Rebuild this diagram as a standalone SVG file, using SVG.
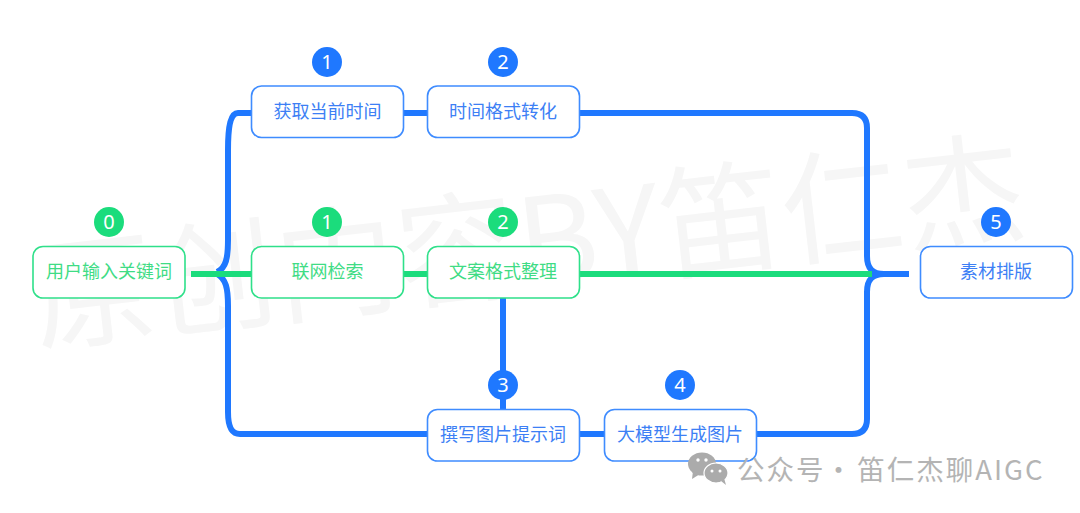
<svg xmlns="http://www.w3.org/2000/svg" width="1080" height="513" viewBox="0 0 1080 513">
<style>
text{font-family:"Noto Sans CJK SC","Liberation Sans",sans-serif}
.n rect{fill:#fff;stroke-width:1.6}
.b rect{stroke:#3f8cff}.b text{fill:#3d7ff5}
.g rect{stroke:#2fe08a}.g text{fill:#3fdc85}
.n text{font-size:18px;text-anchor:middle}
.c{fill:none;stroke-width:6}
.cb{stroke:#1f78ff}.cg{stroke:#1bdc7c}
.bd text{font-family:"Noto Sans","Liberation Sans",sans-serif;font-size:20px;fill:#fff;text-anchor:middle}
</style>
<rect width="1080" height="513" fill="#fff"/>
<text id="watermark" transform="translate(38 343) rotate(-6.500)" font-size="122" fill="#f6f6f6">原创内容BY笛仁杰</text>
<g id="connectors">
<path class="c cb" d="M251 113H238C231 113 228 125 228 150V240C228 258 226 268 217 272"/>
<path class="c cb" d="M217 274C226 279 228 288 228 306V412C228 426 231 434 240 434H427"/>
<path class="c cb" d="M403 113H427"/>
<path class="c cb" d="M579 113H852C862 113 867 118 867 128V256C867 268 872 274 884 274H909"/>
<path class="c cb" d="M756 434H852C862 434 867 429 867 419V292C867 280 872 274 884 274"/>
<path class="c cb" d="M503 298V409"/>
<path class="c cb" d="M579 434H604"/>
<path class="c cg" d="M191 274H251"/>
<path class="c cg" d="M403 274H427"/>
<path class="c cg" d="M579 274H872"/>
</g>
<g id="n0" class="n g"><rect x="33" y="246.500" width="152" height="51.500" rx="10"/><text x="109" y="278">用户输入关键词</text></g>
<g id="n1" class="n b"><rect x="251.500" y="86" width="152" height="51.500" rx="10"/><text x="327.500" y="118">获取当前时间</text></g>
<g id="n2" class="n b"><rect x="427.500" y="86" width="152" height="51.500" rx="10"/><text x="503" y="118">时间格式转化</text></g>
<g id="n3" class="n g"><rect x="251.500" y="246.500" width="152" height="51.500" rx="10"/><text x="327.500" y="278">联网检索</text></g>
<g id="n4" class="n g"><rect x="427.500" y="246.500" width="152" height="51.500" rx="10"/><text x="503" y="278">文案格式整理</text></g>
<g id="n5" class="n b"><rect x="427.500" y="409.500" width="152" height="51.500" rx="10"/><text x="503" y="441">撰写图片提示词</text></g>
<g id="n6" class="n b"><rect x="604.500" y="409.500" width="152" height="51.500" rx="10"/><text x="680" y="441">大模型生成图片</text></g>
<g id="n7" class="n b"><rect x="920.500" y="246.500" width="152" height="51.500" rx="10"/><text x="996" y="278">素材排版</text></g>
<g id="badges" class="bd">
<g id="b0"><circle cx="109" cy="222" r="15" fill="#1bdc7c"/><text x="109" y="229">0</text></g>
<g id="b1"><circle cx="327" cy="62" r="15" fill="#1f78ff"/><text x="327" y="69">1</text></g>
<g id="b2"><circle cx="503" cy="62" r="15" fill="#1f78ff"/><text x="503" y="69">2</text></g>
<g id="b3"><circle cx="327" cy="222" r="15" fill="#1bdc7c"/><text x="327" y="229">1</text></g>
<g id="b4"><circle cx="503" cy="222" r="15" fill="#1bdc7c"/><text x="503" y="229">2</text></g>
<g id="b5"><circle cx="503" cy="385" r="15" fill="#1f78ff"/><text x="503" y="392">3</text></g>
<g id="b6"><circle cx="680" cy="385" r="15" fill="#1f78ff"/><text x="680" y="392">4</text></g>
<g id="b7"><circle cx="996" cy="222" r="15" fill="#1f78ff"/><text x="996" y="229">5</text></g>
</g>
<g id="wechat" fill="#ababab">
<ellipse cx="702" cy="464" rx="14" ry="11.5"/><path d="M693 471L692 479L700 474Z"/>
<ellipse cx="716" cy="473" rx="12" ry="10" stroke="#fff" stroke-width="1.2"/><path d="M721 481L726 485L724 478Z"/>
<circle cx="698" cy="460" r="1.700" fill="#fff"/><circle cx="706" cy="460" r="1.700" fill="#fff"/><circle cx="712" cy="471" r="1.500" fill="#fff"/><circle cx="720" cy="471" r="1.500" fill="#fff"/>
</g>
<text id="credit" x="737" y="480" dx="0 0 0 0 -9 -5" font-size="27.500" fill="#b4b4b4" letter-spacing="2">公众号 · 笛仁杰聊AIGC</text>
</svg>
